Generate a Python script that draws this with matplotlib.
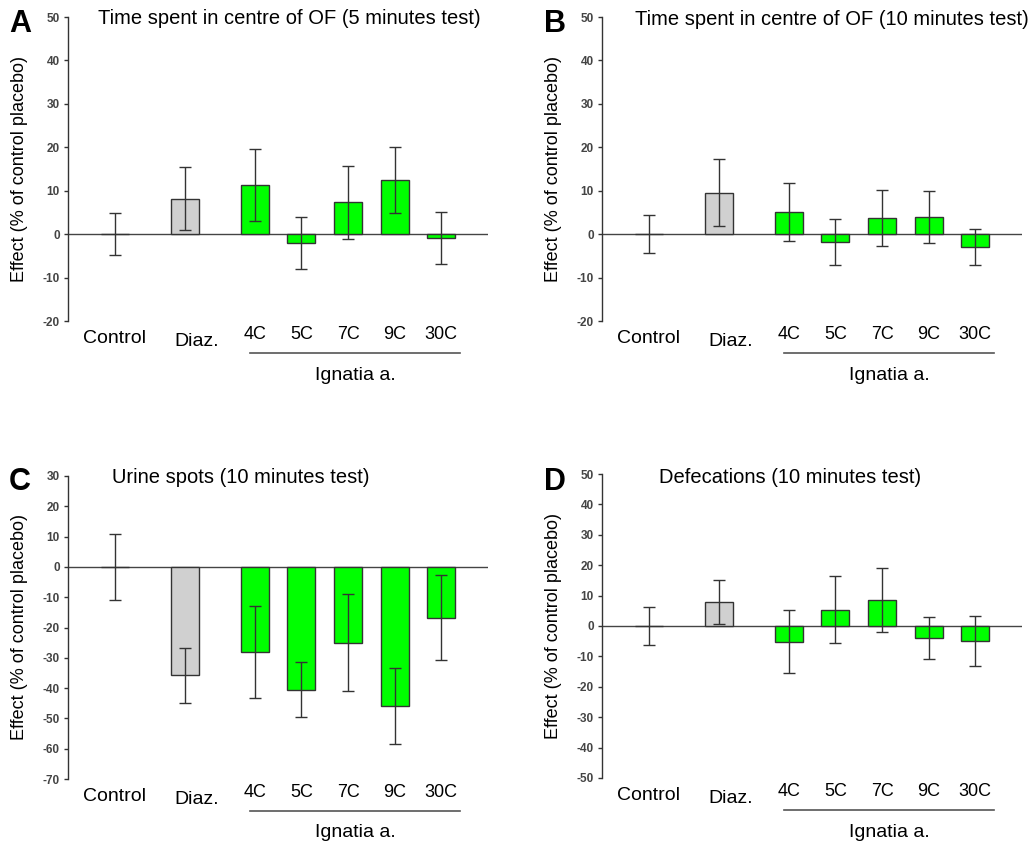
import matplotlib
matplotlib.use("Agg")
import matplotlib.pyplot as plt

plt.rcParams["font.family"] = ["Liberation Sans", "DejaVu Sans"]
plt.rcParams["axes.unicode_minus"] = False

categories = ["Control", "Diaz.", "4C", "5C", "7C", "9C", "30C"]
group_label = "Ignatia a."

a_title = "Time spent in centre of OF (5 minutes test)"
a_means = [0, 8.2, 11.3, -2.0, 7.3, 12.4, -0.9]
a_err = [4.8, 7.3, 8.2, 6.0, 8.4, 7.6, 5.9]

b_title = "Time spent in centre of OF (10 minutes test)"
b_means = [0, 9.5, 5.1, -1.8, 3.7, 3.9, -3.0]
b_err = [4.4, 7.7, 6.7, 5.2, 6.5, 6.0, 4.1]

c_title = "Urine spots (10 minutes test)"
c_means = [0, -35.8, -28.1, -40.5, -25.0, -45.9, -16.8]
c_err = [10.8, 9.0, 15.2, 9.1, 16.0, 12.5, 14.0]

d_title = "Defecations (10 minutes test)"
d_means = [0, 7.9, -5.2, 5.4, 8.5, -3.8, -4.8]
d_err = [6.1, 7.3, 10.4, 11.0, 10.6, 6.9, 8.2]

ylabel = "Effect (% of control placebo)"

# layout
x_pos = [0, 1.5, 3, 4, 5, 6, 7]
colors = ["#d0d0d0", "#d0d0d0"] + ["#00ff00"] * 5
dark = "#333333"


def panel(fig, rect, means, err, ymin, ymax, title, letter, title_x, title_y, letter_x, letter_y):
    ax = fig.add_axes(rect)
    ax.bar(x_pos, means, width=0.6, color=colors, edgecolor=dark, linewidth=1.0, zorder=2)
    ax.errorbar(x_pos, means, yerr=err, fmt="none", ecolor=dark, elinewidth=1.0,
                capsize=4, capthick=1.0, zorder=3)
    ax.axhline(0, color="#444444", linewidth=1.0, zorder=1)
    ax.set_xlim(-1, 8)
    ax.set_ylim(ymin, ymax)
    ax.set_yticks(range(ymin, ymax + 1, 10))
    ax.tick_params(axis="y", labelsize=8.5, length=3, width=1, colors=dark, pad=3)
    for t in ax.get_yticklabels():
        t.set_fontweight("bold")
        t.set_color("#444444")
    ax.set_xticks([])
    for s in ["top", "right", "bottom"]:
        ax.spines[s].set_visible(False)
    ax.spines["left"].set_color(dark)
    ax.spines["left"].set_linewidth(1.0)
    ax.set_ylabel(ylabel, fontsize=13)
    ax.yaxis.set_label_coords(-0.095, 0.5)

    tr = ax.get_xaxis_transform()
    for i, (x, lab) in enumerate(zip(x_pos, categories)):
        if i == 0:
            ax.text(x, -0.058, lab, transform=tr, ha="center", va="center", fontsize=14)
        elif i == 1:
            ax.text(x + 0.25, -0.068, lab, transform=tr, ha="center", va="center", fontsize=14)
        else:
            ax.text(x, -0.043, lab, transform=tr, ha="center", va="center", fontsize=13)
    ax.plot([2.9, 7.4], [-0.105, -0.105], transform=tr, color="#555555", lw=1.2, clip_on=False)
    ax.text(5.15, -0.178, group_label, transform=tr, ha="center", va="center", fontsize=14)

    fig.text(title_x, title_y, title, ha="center", va="baseline", fontsize=14.5)
    fig.text(letter_x, letter_y, letter, ha="left", va="baseline", fontsize=22, fontweight="bold")
    return ax


fig = plt.figure(figsize=(10.3, 8.48), dpi=100)
W, H = 1030.0, 848.0

panel(fig, [68 / W, 1 - 321 / H, 420 / W, 304 / H], a_means, a_err, -20, 50, a_title, "A",
      289 / W, 1 - 24 / H, 9 / W, 1 - 32 / H)
panel(fig, [602 / W, 1 - 321 / H, 420 / W, 304 / H], b_means, b_err, -20, 50, b_title, "B",
      832 / W, 1 - 25 / H, 544 / W, 1 - 32 / H)
panel(fig, [68 / W, 1 - 779 / H, 420 / W, 303 / H], c_means, c_err, -70, 30, c_title, "C",
      241 / W, 1 - 483 / H, 9 / W, 1 - 490 / H)
panel(fig, [602 / W, 1 - 778 / H, 420 / W, 304 / H], d_means, d_err, -50, 50, d_title, "D",
      790 / W, 1 - 483 / H, 544 / W, 1 - 490 / H)

fig.savefig("out.png", dpi=100)
